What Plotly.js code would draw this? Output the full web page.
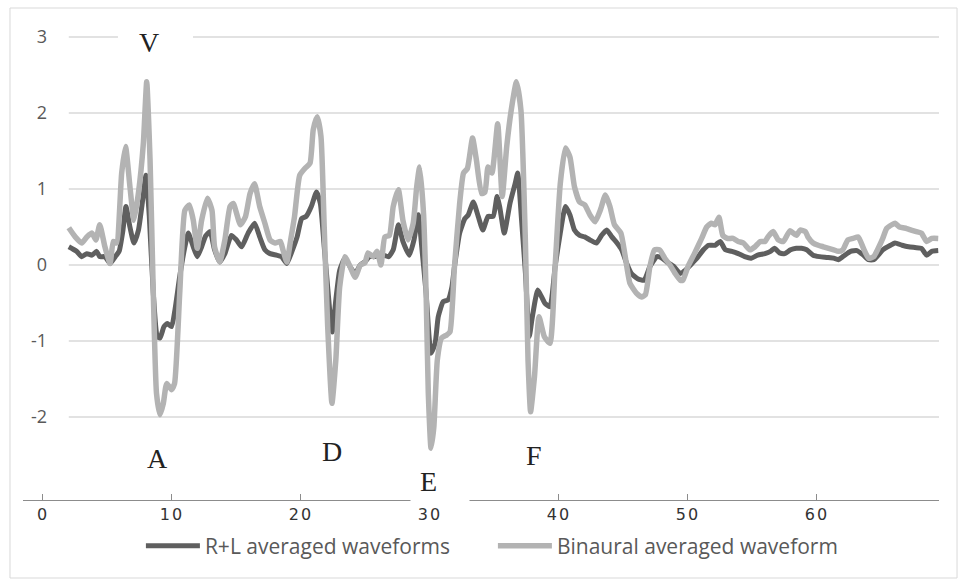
<!DOCTYPE html>
<html>
<head>
<meta charset="utf-8">
<script src="https://cdn.plot.ly/plotly-3.0.1.min.js"></script>
<style>
  html, body { margin: 0; padding: 0; background: #fff; }
  #chart { width: 958px; height: 580px; }
  .xtick text { letter-spacing: 2px; }
</style>
</head>
<body>
<div id="chart"></div>
<script>
// ---- data ----
const seriesNames = ["R+L averaged waveforms", "Binaural averaged waveform"];

const xRL = [2.0,2.6,3.0,3.4,3.8,4.16,4.4,4.8,5.2,5.6,5.9,6.2,6.43,6.74,7.05,7.4,7.73,7.98,8.24,8.55,8.86,9.07,9.38,9.64,9.97,10.23,10.6,11.0,11.26,11.65,11.96,12.3,12.6,12.95,13.3,13.7,14.1,14.6,15.0,15.4,15.9,16.4,16.8,17.2,17.6,18.1,18.5,18.9,19.3,19.7,20.05,20.4,20.8,21.2,21.5,21.8,22.2,22.43,22.7,23.0,23.4,23.8,24.2,24.6,25.0,25.3,25.7,26.0,26.4,26.8,27.15,27.55,27.9,28.4,28.76,29.1,29.36,29.7,30.08,30.4,30.64,31.03,31.4,31.7,31.9,32.3,32.7,32.97,33.36,33.74,34.1,34.5,34.9,35.2,35.4,35.76,36.2,36.6,36.8,37.1,37.4,37.7,37.9,38.35,38.66,38.9,39.3,39.7,40.1,40.5,40.85,41.2,41.6,42.0,42.4,42.9,43.3,43.7,44.1,44.5,44.86,45.25,45.6,46.1,46.6,47.05,47.6,48.0,48.35,48.9,49.4,49.8,50.2,50.7,51.2,51.6,52.1,52.5,52.9,53.4,53.9,54.4,54.9,55.4,55.97,56.4,56.7,57.1,57.5,57.95,58.4,58.8,59.2,59.7,60.2,60.75,61.3,61.65,62.0,62.6,63.1,63.6,64.0,64.4,64.75,65.1,65.7,66.05,66.6,67.1,67.6,68.1,68.5,68.9,69.4];
const yRL = [0.24,0.18,0.11,0.15,0.13,0.18,0.11,0.11,0.02,0.11,0.18,0.46,0.77,0.5,0.29,0.46,0.86,1.18,0.64,-0.37,-0.94,-0.96,-0.81,-0.77,-0.81,-0.59,-0.15,0.24,0.42,0.24,0.11,0.24,0.38,0.44,0.2,0.04,0.15,0.39,0.33,0.24,0.42,0.55,0.37,0.2,0.15,0.13,0.11,0.02,0.18,0.37,0.61,0.64,0.77,0.96,0.81,0.24,-0.55,-0.88,-0.46,-0.07,0.09,-0.02,-0.11,0.0,0.05,0.11,0.11,0.13,0.13,0.11,0.2,0.53,0.31,0.13,0.33,0.66,0.24,-0.37,-1.16,-1.03,-0.68,-0.48,-0.46,-0.29,-0.02,0.42,0.61,0.66,0.83,0.64,0.46,0.64,0.64,0.9,0.77,0.42,0.81,1.07,1.21,0.59,-0.11,-0.94,-0.72,-0.33,-0.42,-0.5,-0.55,-0.02,0.42,0.77,0.66,0.46,0.39,0.37,0.33,0.29,0.39,0.46,0.37,0.29,0.2,0.02,-0.11,-0.18,-0.2,-0.02,0.11,0.09,0.04,-0.02,-0.11,-0.07,0.0,0.09,0.2,0.26,0.26,0.31,0.2,0.18,0.15,0.11,0.09,0.13,0.15,0.18,0.22,0.16,0.15,0.2,0.22,0.22,0.2,0.13,0.11,0.1,0.09,0.07,0.11,0.18,0.19,0.13,0.07,0.07,0.13,0.2,0.26,0.29,0.26,0.24,0.23,0.22,0.13,0.18,0.19];

const xBin = [2.0,2.5,3.0,3.4,3.8,4.1,4.4,4.8,5.2,5.45,5.7,6.1,6.4,6.74,7.05,7.4,7.78,8.04,8.3,8.55,8.8,9.07,9.33,9.59,9.97,10.2,10.6,11.0,11.34,11.65,11.96,12.3,12.75,13.1,13.3,13.7,14.1,14.5,14.75,15.3,15.7,16.05,16.4,16.8,17.2,17.6,18.0,18.4,18.6,18.9,19.2,19.5,19.9,20.3,20.7,20.95,21.26,21.55,21.8,22.07,22.4,22.7,23.0,23.4,23.8,24.2,24.6,24.96,25.2,25.6,25.9,26.2,26.5,26.85,27.15,27.55,27.9,28.3,28.7,28.97,29.2,29.5,29.7,29.87,30.08,30.3,30.57,30.9,31.3,31.55,31.9,32.3,32.6,32.9,33.3,33.6,34.0,34.26,34.5,34.8,35.25,35.6,35.95,36.3,36.7,37.05,37.4,37.6,37.8,38.1,38.45,38.86,39.3,39.7,40.1,40.5,40.85,41.2,41.6,42.0,42.4,42.8,43.2,43.6,43.95,44.3,44.8,45.1,45.5,46.0,46.4,46.7,47.05,47.4,47.8,48.2,48.6,49.0,49.4,49.6,50.0,50.5,51.06,51.45,51.8,52.1,52.4,52.7,53.05,53.5,53.9,54.3,54.8,55.2,55.6,55.97,56.2,56.6,57.0,57.4,57.9,58.4,58.7,59.1,59.3,59.7,60.1,60.5,60.9,61.3,61.65,62.0,62.4,62.8,63.2,63.6,64.0,64.4,64.75,65.1,65.4,65.8,66.05,66.4,66.95,67.3,67.7,68.1,68.5,68.9,69.4];
const yBin = [0.49,0.37,0.29,0.37,0.42,0.33,0.53,0.24,0.02,0.31,0.29,1.21,1.56,1.03,0.59,0.95,1.6,2.41,1.38,-0.37,-1.69,-1.97,-1.82,-1.56,-1.64,-1.56,-0.37,0.72,0.79,0.59,0.22,0.59,0.88,0.72,0.24,0.04,0.33,0.77,0.81,0.53,0.64,0.94,1.07,0.77,0.55,0.33,0.29,0.31,0.2,0.04,0.33,0.64,1.18,1.27,1.34,1.78,1.95,1.69,0.5,-0.81,-1.82,-1.25,-0.29,0.11,-0.02,-0.16,0.0,0.03,0.16,0.11,0.18,0.0,0.37,0.39,0.77,0.99,0.59,0.33,0.55,1.03,1.29,0.68,-0.37,-1.69,-2.41,-2.13,-1.25,-0.96,-0.92,-0.88,-0.02,0.81,1.21,1.27,1.67,1.38,0.94,0.96,1.29,1.21,1.86,0.9,1.56,2.04,2.41,2.04,0.29,-1.25,-1.93,-1.47,-0.68,-0.94,-1.03,-0.02,1.07,1.54,1.42,1.03,0.83,0.79,0.66,0.57,0.72,0.92,0.77,0.53,0.42,0.15,-0.24,-0.37,-0.42,-0.39,-0.02,0.2,0.2,0.09,0.0,-0.11,-0.2,-0.2,-0.02,0.15,0.35,0.5,0.55,0.53,0.63,0.39,0.35,0.35,0.31,0.29,0.2,0.24,0.31,0.31,0.37,0.44,0.33,0.31,0.45,0.39,0.46,0.44,0.37,0.29,0.26,0.24,0.22,0.2,0.18,0.2,0.33,0.35,0.37,0.22,0.09,0.11,0.22,0.35,0.48,0.53,0.55,0.5,0.48,0.46,0.44,0.42,0.31,0.35,0.35];

const xTicks = [0, 10, 20, 30, 40, 50, 60];
const yTicks = [-2, -1, 0, 1, 2, 3];
const peakLabels = ["V", "A", "D", "E", "F"];

// ---- chart ----
const traces = [
  { x: xRL, y: yRL, name: seriesNames[0], type: "scatter", mode: "lines",
    line: { color: "#5f5f5f", width: 5, shape: "spline", smoothing: 0.5 } },
  { x: xBin, y: yBin, name: seriesNames[1], type: "scatter", mode: "lines",
    line: { color: "#b3b3b3", width: 5.5, shape: "spline", smoothing: 0.5 } }
];

const shapes = yTicks.map(v => ({
  type: "line", xref: "x", yref: "y", x0: 2.0, x1: 69.6, y0: v, y1: v,
  line: { color: "#d9d9d9", width: 1.3 }, layer: "below"
}));
// white box behind the "V" label, breaking the top gridline
shapes.push({
  type: "rect", xref: "x", yref: "y", x0: 5.81, x1: 11.63, y0: 2.8, y1: 3.12,
  line: { width: 0 }, fillcolor: "#fff", layer: "below"
});
// outer chart border
shapes.push({
  type: "rect", xref: "paper", yref: "paper",
  x0: -0.0142, x1: 1.0197, y0: -0.1625, y1: 1.025,
  line: { color: "#d9d9d9", width: 1 }, fillcolor: "rgba(0,0,0,0)", layer: "below"
});

const lblFont = { family: "Liberation Serif", size: 28, color: "#222" };
const annots = [
  // white text box behind "E" that breaks the x-axis line
  { text: " ", x: 30.8, y: -2.85, width: 56, height: 46, bgcolor: "#fff" },
  { text: peakLabels[0], x: 8.22, y: 2.93 },
  { text: peakLabels[1], x: 8.84, y: -2.54 },
  { text: peakLabels[2], x: 22.4, y: -2.45 },
  { text: peakLabels[3], x: 29.9, y: -2.85 },
  { text: peakLabels[4], x: 38.1, y: -2.51 }
].map(a => Object.assign({ xref: "x", yref: "y", showarrow: false, font: lblFont,
  xanchor: "center", yanchor: "middle" }, a));

const layout = {
  width: 958, height: 580,
  margin: { l: 23, r: 19, t: 20, b: 80, pad: 0 },
  paper_bgcolor: "#fff", plot_bgcolor: "#fff",
  showlegend: true,
  legend: {
    orientation: "h", x: 0.513, xanchor: "center", y: -0.096, yanchor: "middle",
    font: { family: "Open Sans", size: 21, color: "#595959" },
    itemwidth: 54, entrywidth: 283, entrywidthmode: "pixels",
    bgcolor: "rgba(0,0,0,0)", traceorder: "normal"
  },
  xaxis: {
    range: [-1.55, 69.46], tickvals: xTicks, ticktext: xTicks.map(String),
    showgrid: false, zeroline: false, showline: true, linecolor: "#8c8c8c", linewidth: 1,
    ticks: "inside", ticklen: 6, tickcolor: "#8c8c8c",
    tickfont: { family: "DejaVu Sans", size: 16, color: "#333" }
  },
  yaxis: {
    range: [-3.092, 3.224], tickvals: yTicks, ticktext: yTicks.map(String),
    showgrid: false, zeroline: false, showline: false, ticks: "",
    ticklabelstandoff: -25,
    tickfont: { family: "Open Sans", size: 18, color: "#595959" }
  },
  shapes: shapes,
  annotations: annots
};

Plotly.newPlot("chart", traces, layout, { staticPlot: true, displayModeBar: false });
</script>
</body>
</html>
